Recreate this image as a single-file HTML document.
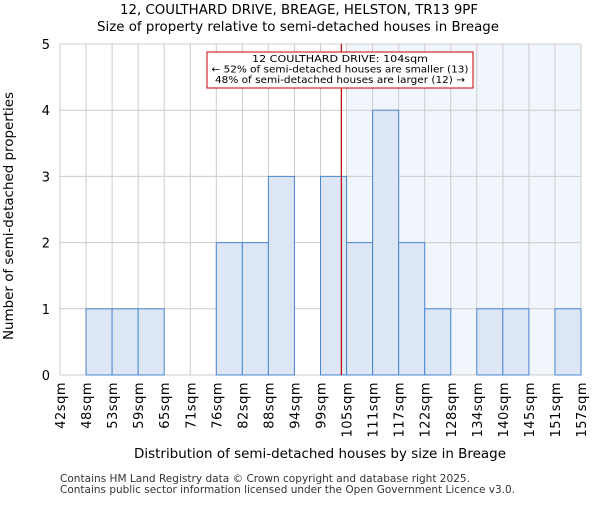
<!DOCTYPE html>
<html><head><meta charset="utf-8"><style>
body{margin:0;background:#fff}
svg{font-family:"DejaVu Sans","Liberation Sans",sans-serif}
</style></head><body>
<svg id="c" width="600" height="500" viewBox="0 0 600 500">
<text x="120" y="14" font-size="13" textLength="358" lengthAdjust="spacingAndGlyphs">12, COULTHARD DRIVE, BREAGE, HELSTON, TR13 9PF</text>
<text x="97" y="31" font-size="13" textLength="402" lengthAdjust="spacingAndGlyphs">Size of property relative to semi-detached houses in Breage</text>
<g id="plot"></g>
<text x="134" y="458" font-size="13" textLength="372" lengthAdjust="spacingAndGlyphs">Distribution of semi-detached houses by size in Breage</text>
<text transform="translate(13,340) rotate(-90)" font-size="13" textLength="248" lengthAdjust="spacingAndGlyphs">Number of semi-detached properties</text>
<text x="60" y="482" font-size="10.5" fill="#333" textLength="410" lengthAdjust="spacingAndGlyphs">Contains HM Land Registry data © Crown copyright and database right 2025.</text>
<text x="60" y="493" font-size="10.5" fill="#333" textLength="455" lengthAdjust="spacingAndGlyphs">Contains public sector information licensed under the Open Government Licence v3.0.</text>
</svg>
<script>
const binLabels=["42sqm","48sqm","53sqm","59sqm","65sqm","71sqm","76sqm","82sqm","88sqm","94sqm","99sqm","105sqm","111sqm","117sqm","122sqm","128sqm","134sqm","140sqm","145sqm","151sqm","157sqm"];
const counts=[0,1,1,1,0,0,2,2,3,0,3,2,4,2,1,0,1,1,0,1];
const yTicks=[0,1,2,3,4,5];
const propertyBin=10.8; // 104sqm in bin-index units
const highlightFromBin=11;
const NS="http://www.w3.org/2000/svg";
const L=60,R=581,T=44,B=375,yMax=5;
const bw=(R-L)/counts.length;
const xs=i=>L+i*bw;
const ys=v=>B-(B-T)*v/yMax;
const g=document.getElementById('plot');
function mk(t,a){const e=document.createElementNS(NS,t);for(const k in a)e.setAttribute(k,a[k]);g.appendChild(e);return e;}
let e=mk('rect',{x:xs(highlightFromBin),y:T,width:R-xs(highlightFromBin),height:B-T,fill:'#eef2fb',opacity:0.8});


for(let i=0;i<=counts.length;i++){e=mk('line',{x1:xs(i),x2:xs(i),y1:T,y2:B,stroke:'#ccc','stroke-width':1});

}
yTicks.forEach(v=>{e=mk('line',{x1:L,x2:R,y1:ys(v),y2:ys(v),stroke:'#ccc','stroke-width':1});


e=mk('text',{x:L-10,y:ys(v)+5,'text-anchor':'end','font-size':13});e.textContent=v;

});
counts.forEach((c,i)=>{if(!c)return;e=mk('rect',{x:xs(i),y:ys(c),width:bw,height:B-ys(c),fill:'#dce6f5',stroke:'#4a86d0','stroke-width':1});

});
binLabels.forEach((t,i)=>{e=mk('text',{transform:`translate(${xs(i)+5},382) rotate(-90)`,'text-anchor':'end','font-size':13,'letter-spacing':0.5});e.textContent=t;

});
const px=xs(propertyBin);
e=mk('line',{x1:px,x2:px,y1:T,y2:B,stroke:'#b00','stroke-width':1.2});


e=mk('rect',{x:207,y:52,width:266,height:36,fill:'#fff',stroke:'#c00','stroke-width':1});


const ann=[["12 COULTHARD DRIVE: 104sqm",176],["← 52% of semi-detached houses are smaller (13)",257],["48% of semi-detached houses are larger (12) →",250]];
ann.forEach((a,i)=>{e=mk('text',{x:340-a[1]/2,y:62+i*10.5,'font-size':10,textLength:a[1],lengthAdjust:'spacingAndGlyphs'});e.textContent=a[0];

});
</script>
</body></html>
